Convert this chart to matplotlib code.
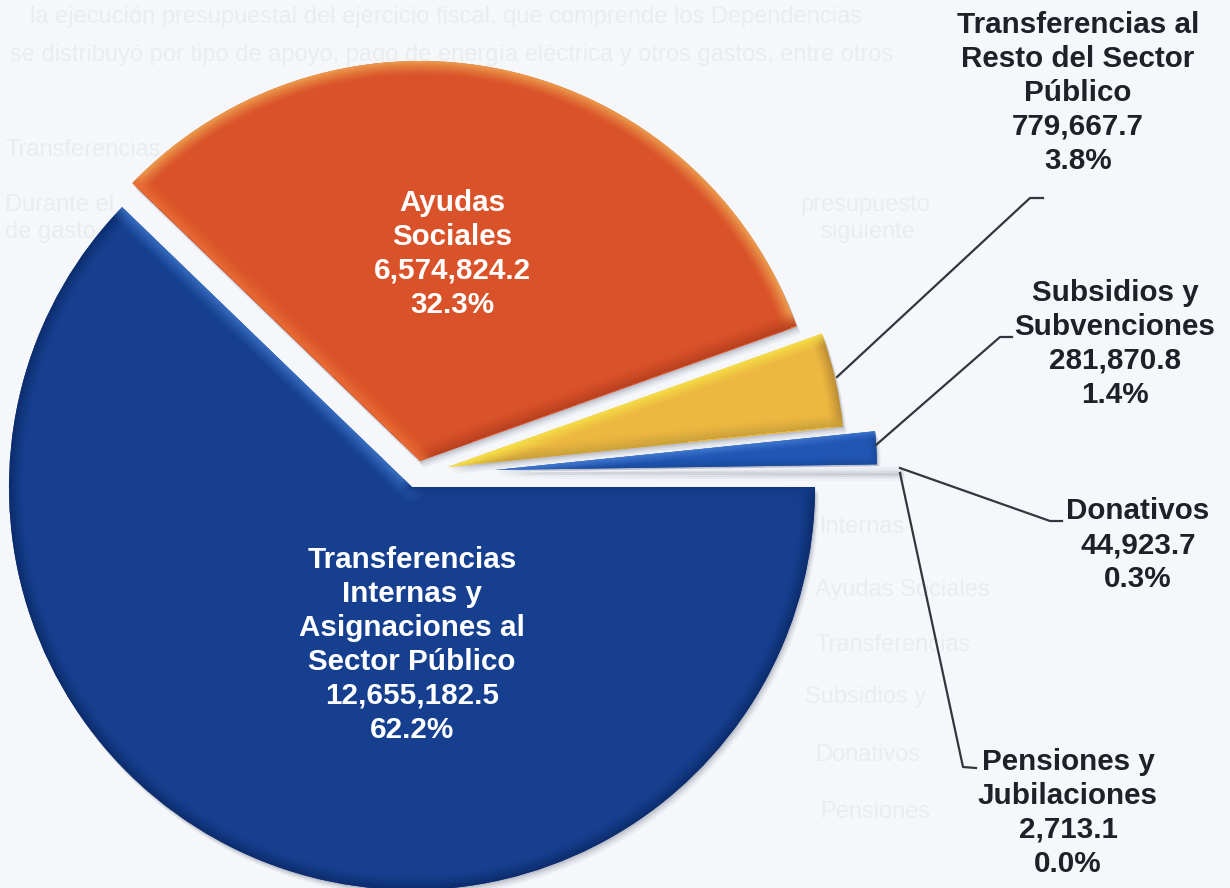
import numpy as np
import matplotlib
matplotlib.use("Agg")
import matplotlib.pyplot as plt
from matplotlib.patches import Wedge

# ---- data ----
categories = ["Transferencias\nInternas y\nAsignaciones al\nSector Público", "Ayudas\nSociales",
              "Transferencias al\nResto del Sector\nPúblico", "Subsidios y\nSubvenciones",
              "Donativos", "Pensiones y\nJubilaciones"]
values = [12655182.5, 6574824.2, 779667.7, 281870.8, 44923.7, 2713.1]
percents = ["62.2%", "32.3%", "3.8%", "1.4%", "0.3%", "0.0%"]

# ---- style / layout (pixel space, y measured from the top) ----
W, H = 1230, 888
def fy(y): return H - y
apex = [(412, 487), (420, 461), (448, 467), (495, 470), (497, 472), (497, 473)]
radii = [403, 400, 397, 382, 404, 404]
bevel = [16, 16, 14, 9, 2, 1]
body = ["#16408F", "#DA5229", "#EDB840", "#2156B4", "#E9EBF2", "#E9EBF2"]
arc_c = ["#0C2C6C", "#EDA250", "#B98A35", "#1B4A9E", "#F4F5F9", "#F4F5F9"]
low_c = ["#3A70C4", "#B8401F", "#C9A03A", "#1A4A9C", "#D8DAE2", "#D8DAE2"]  # edge at the smaller angle
high_c = ["#123884", "#E86C35", "#F6E348", "#3F78D0", "#F7F8FB", "#F7F8FB"]  # edge at the larger angle
text_c = ["white", "white", "#1E2128", "#1E2128", "#1E2128", "#1E2128"]
label_xy = [(412, 645), (452, 254), (1078, 93), (1115, 344), (1138, 545), (1068, 813)]
leaders = [None, None,
           [(837, 377), (1030, 198), (1043, 198)],
           [(876, 445), (1000, 337), (1012, 337)],
           [(900, 468), (1050, 521), (1062, 521)],
           [(900, 473), (963, 767), (976, 768)]]
ghost = [(30, 17, "la ejecución presupuestal del ejercicio fiscal, que comprende los Dependencias"),
         (10, 55, "se distribuyó por tipo de apoyo, pago de energía eléctrica y otros gastos, entre otros"),
         (5, 150, "Transferencias"),
         (5, 205, "Durante el"), (5, 232, "de gasto"),
         (800, 205, "presupuesto"), (820, 232, "siguiente"),
         (820, 527, "Internas"), (815, 590, "Ayudas Sociales"), (815, 645, "Transferencias"),
         (805, 697, "Subsidios y"), (815, 755, "Donativos"), (820, 812, "Pensiones")]

fig = plt.figure(figsize=(W / 100, H / 100), dpi=100, facecolor="#F5F7FB")
ax = fig.add_axes([0, 0, 1, 1])
wedges, _ = ax.pie(values, startangle=0, counterclock=False, normalize=True,
                   wedgeprops=dict(linewidth=0))
ax.set_aspect("equal")
ax.set_xlim(0, W)
ax.set_ylim(0, H)
ax.axis("off")

for x, y, s in ghost:
    ax.text(x, fy(y), s, fontsize=17, color="#EAECF0", family="Liberation Sans",
            va="center", ha="left", zorder=0.5)

px, py = np.meshgrid(np.arange(W) + 0.5, np.arange(H) + 0.5)

def hex2rgb(c):
    return np.array(matplotlib.colors.to_rgb(c))

for i, w in enumerate(wedges):
    cx, cy = apex[i][0], fy(apex[i][1])
    R = radii[i]
    t1, t2 = w.theta1, w.theta2
    if t2 - t1 < 0.15:
        t1 -= 0.1
    w.set_center((cx, cy))
    w.set_radius(R)
    w.set_facecolor(body[i])
    w.set_edgecolor(arc_c[i] if i > 1 else "#00000000")
    w.set_zorder(3 + i * 0.1)

    # soft drop shadow
    for k, a in ((7, 0.05), (5, 0.07), (3, 0.09), (1.5, 0.1)):
        ax.add_patch(Wedge((cx + k * 0.6, cy - k), R, t1, t2, facecolor="#30344A",
                           alpha=a, linewidth=0, zorder=2 + i * 0.1))

    # bevelled shading clipped to the wedge
    dx, dy = px - cx, py - cy
    r = np.hypot(dx, dy)
    th = np.degrees(np.arctan2(dy, dx))
    a1 = (th - t1) % 360
    a2 = (t2 - th) % 360
    d1 = np.where(a1 < 90, r * np.sin(np.radians(a1)), r)
    d2 = np.where(a2 < 90, r * np.sin(np.radians(a2)), r)
    d3 = R - r
    img = np.ones((H, W, 3)) * hex2rgb(body[i])
    for d, c in ((d3, arc_c[i]), (d1, low_c[i]), (d2, high_c[i])):
        m = np.clip(1 - np.abs(d) / bevel[i], 0, 1)[..., None] ** 1.3
        img = img * (1 - m) + hex2rgb(c) * m
    im = ax.imshow(img, extent=(0, W, 0, H), origin="lower", zorder=3 + i * 0.1,
                   interpolation="nearest", aspect="equal")
    im.set_clip_path(w)

ax.set_xlim(0, W)
ax.set_ylim(0, H)

for i, cat in enumerate(categories):
    s = f"{cat}\n{values[i]:,.1f}\n{percents[i]}"
    ax.text(label_xy[i][0], fy(label_xy[i][1]), s, color=text_c[i], fontsize=21.3,
            fontweight="bold", family="Liberation Sans", ha="center", va="center",
            multialignment="center", linespacing=1.27, zorder=10)
    if leaders[i]:
        xs = [p[0] for p in leaders[i]]
        ys = [fy(p[1]) for p in leaders[i]]
        ax.plot(xs, ys, color="#33363F", lw=1.6, zorder=9, solid_joinstyle="round")

fig.savefig("out.png", dpi=100, facecolor=fig.get_facecolor())
